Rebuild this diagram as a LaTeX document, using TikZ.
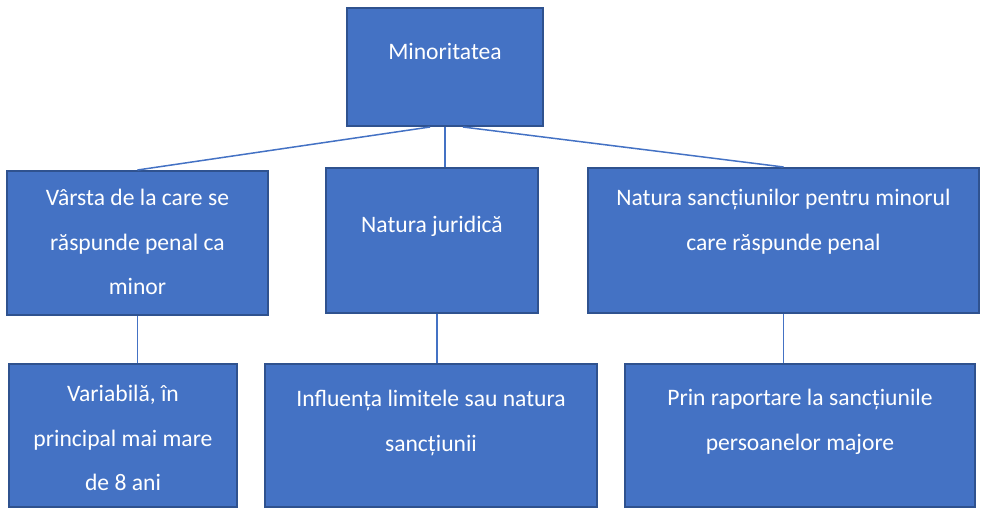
\documentclass[tikz,border=0pt]{standalone}
\usepackage{fontspec}
\setmainfont{Carlito}
\definecolor{boxblue}{HTML}{4472C4}
\definecolor{boxedge}{HTML}{2F528F}
\tikzset{
    box/.style={draw=boxedge, fill=boxblue, line width=1pt, inner sep=0pt},
    boxtext/.style={text=white, align=center, inner sep=0pt,
        font=\fontsize{11.8}{22.4}\selectfont},
    link/.style={draw=boxblue, line width=0.75pt}
}

\begin{document}
\begin{tikzpicture}[x=0.5pt, y=-0.5pt]
    \useasboundingbox (0,0) rectangle (982,508);

    % Top box
    \node[box, minimum width=98pt, minimum height=59pt] (top) at (445,67) {};
    \node[boxtext] (t0) at (445,51) {Minoritatea};

    % Second row
    \node[box, minimum width=130.5pt, minimum height=72pt] (b1) at (137.5,243) {};
    \node[box, minimum width=106pt, minimum height=72.5pt] (b2) at (432,240.5) {};
    \node[box, minimum width=195.5pt, minimum height=72.5pt] (b3) at (783.5,240.5) {};
    \node[boxtext] (t1) at (137.5,242) {Vârsta de la care se\\ răspunde penal ca\\ minor};
    \node[boxtext] (t2) at (432,226) {Natura juridică};
    \node[boxtext] (t3) at (783.5,222) {Natura sancțiunilor pentru minorul\\ care răspunde penal};

    % Third row
    \node[box, minimum width=114pt, minimum height=71.5pt] (b4) at (123,435.5) {};
    \node[box, minimum width=166pt, minimum height=71.5pt] (b5) at (431,435.5) {};
    \node[box, minimum width=175pt, minimum height=71.5pt] (b6) at (800,435.5) {};
    \node[boxtext] (t4) at (123,438) {Variabilă, în\\ principal mai mare\\ de 8 ani};
    \node[boxtext] (t5) at (431,423) {Influența limitele sau natura\\ sancțiunii};
    \node[boxtext] (t6) at (800,422) {Prin raportare la sancțiunile\\ persoanelor majore};

    % Connectors
    \draw[link] ([xshift=-7.5pt]top.south) -- (b1.north);
    \draw[link] (top.south) -- (top.south |- b2.north);
    \draw[link] ([xshift=9pt]top.south) -- (b3.north);
    \draw[link] (b1.south) -- (b1.south |- b4.north);
    \draw[link] ([xshift=2.5pt]b2.south) -- ([xshift=2.5pt]b2.south |- b5.north);
    \draw[link] (b3.south) -- (b3.south |- b6.north);
\end{tikzpicture}
\end{document}
